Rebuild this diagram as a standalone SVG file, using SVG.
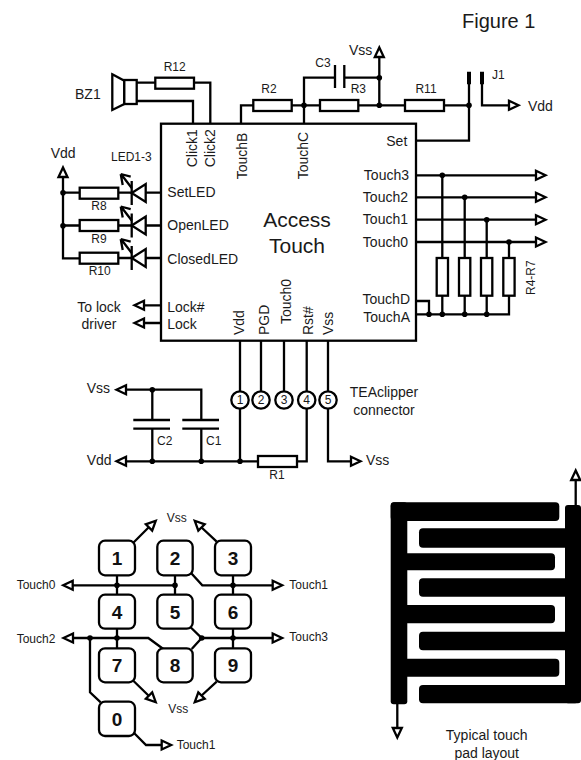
<svg xmlns="http://www.w3.org/2000/svg" width="581" height="760" viewBox="0 0 581 760">
<style>
text{font-family:"Liberation Sans",Arial,sans-serif;font-size:14px;fill:#1a1a1a}
.s{font-size:12px}
.e{text-anchor:end}
.m{text-anchor:middle}
.k{font-size:19px;font-weight:bold;text-anchor:middle;fill:#111}
.w{fill:none;stroke:#000;stroke-width:2.300;stroke-linejoin:miter}
.r{fill:#fff;stroke:#000;stroke-width:2.300}
.a{fill:#fff;stroke:#000;stroke-width:2.300;stroke-linejoin:miter}
.p{fill:#000}
</style>
<defs>
<circle id="j" r="2.800" fill="#000"/>
<path id="ar" d="M9.500 0L0-4.500V4.500Z" class="a"/>
<g id="led"><path d="M0 0L14-9V9Z" class="a"/><path d="M0-12V12" class="w"/><path d="M0-5L-10-18M-11-19L-1-16.300M-11-19L-9-8" class="w"/></g>
</defs>

<g id="labels">
<text x="462" y="28" style="font-size:20px">Figure 1</text>
<text x="75" y="99">BZ1</text>
<text x="174.700" y="70.700" class="s m">R12</text>
<text x="269" y="93" class="s m">R2</text>
<text x="315.300" y="66.700" class="s">C3</text>
<text x="358.300" y="92.700" class="s m">R3</text>
<text x="426" y="92.700" class="s m">R11</text>
<text x="349" y="55">Vss</text>
<text x="492" y="79" class="s">J1</text>
<text x="528" y="110.700">Vdd</text>
<text x="50.700" y="158.300">Vdd</text>
<text x="111" y="161.300" class="s">LED1-3</text>
<text x="99" y="210" class="s m">R8</text>
<text x="99" y="242.700" class="s m">R9</text>
<text x="99.700" y="275" class="s m">R10</text>
<text x="99" y="312" class="m">To lock</text>
<text x="99" y="329.300" class="m">driver</text>
<text x="86.700" y="393">Vss</text>
<text x="86.700" y="465">Vdd</text>
<text x="366" y="465">Vss</text>
<text x="157" y="445" class="s">C2</text>
<text x="206" y="445" class="s">C1</text>
<text x="277" y="479" class="s m">R1</text>
<text x="384" y="397" class="m">TEAclipper</text>
<text x="384" y="415" class="m">connector</text>
<text transform="translate(535 295) rotate(-90)" class="s">R4-R7</text>
<text x="486.700" y="740" class="m">Typical touch</text>
<text x="486.700" y="757.700" class="m">pad layout</text>
<text x="166.700" y="521.700" class="s">Vss</text>
<text x="168.300" y="712.700" class="s">Vss</text>
<text x="16.700" y="589.300" class="s">Touch0</text>
<text x="289.300" y="588.700" class="s">Touch1</text>
<text x="16.700" y="642.700" class="s">Touch2</text>
<text x="289.300" y="641" class="s">Touch3</text>
<text x="176.700" y="749" class="s">Touch1</text>
</g>

<g id="connectors">
<path class="w" d="M136.700 82.700H210.300V124M136.700 101H193V124"/>
<path class="w" d="M241 124V105.300H469M304 124V77.700H335M344.300 77.700H379.300M379.300 105.300V55"/>
<path class="w" d="M335 65V88M344.300 65V88"/>
<path class="w" d="M416 140.700H469V84M482 84V105.300H510"/>
<path class="w" d="M416 175.300H536M416 197.300H536M416 219.700H536M416 242H536"/>
<path class="w" d="M442.300 175.300V314.300M464.700 197.300V314.300M486.700 219.700V314.300M509 242V314.300H416M416 301H429V314.300"/>
<path class="w" d="M63 177V258.300H80M63 192.700H161M63 225.500H161M80 258H161"/>
<path class="w" d="M145 305.300H161M145 323H161"/>
<path class="w" d="M240 341V461.300M261 341V391M284 341V391M306.700 341V461.300H297M328 341V461.300H351"/>
<path class="w" d="M126 461.300H258M126 389.700H201.300V420M152.300 389.700V420M152.300 428.700V461.300M201.300 428.700V461.300"/>
<path class="w" d="M133.300 420H170M133.300 428.700H170M182.300 420H219M182.300 428.700H219"/>
<path class="w" d="M117 575V595M175 575V595M233 575V595M72 585.300H175M188.300 570L202.300 585.300H273"/>
<path class="w" d="M117 628.700V648M233 628.700V648M73 638H148.300L163.300 649M90 638V692.300L100.700 702.300M188.300 625L201.700 638H273M201.700 638L191.700 649"/>
<path class="w" d="M133.300 542.700L150 526M216.700 541.700L200 526M133.300 680.700L150 697M216.700 681.700L200 697M134.300 733.300L146 745H162"/>
<path class="w" d="M575.700 505V480M397.300 704V728"/>
<path class="w" style="stroke-width:4" d="M469 71.700V84.300M482 71.700V84.300"/>
<g>
<use href="#ar" transform="translate(509 105.300)"/>
<use href="#ar" transform="translate(536 175.300)"/><use href="#ar" transform="translate(536 197.300)"/><use href="#ar" transform="translate(536 219.700)"/><use href="#ar" transform="translate(536 242)"/>
<use href="#ar" transform="translate(379.300 57) rotate(-90)"/>
<use href="#ar" transform="translate(63 177) rotate(-90)"/>
<use href="#ar" transform="translate(144 305.300) rotate(180)"/><use href="#ar" transform="translate(144 323) rotate(180)"/>
<use href="#ar" transform="translate(126 461.300) rotate(180)"/><use href="#ar" transform="translate(126 389.700) rotate(180)"/>
<use href="#ar" transform="translate(351 461.300)"/>
<use href="#ar" transform="translate(72.700 585.300) rotate(180)"/><use href="#ar" transform="translate(73 638) rotate(180)"/>
<use href="#ar" transform="translate(272.700 585.300)"/><use href="#ar" transform="translate(272.700 638)"/>
<use href="#ar" transform="translate(149 527.500) rotate(-45)"/><use href="#ar" transform="translate(201.500 527.500) rotate(-135)"/>
<use href="#ar" transform="translate(149 695.500) rotate(45)"/><use href="#ar" transform="translate(201.500 695.500) rotate(135)"/>
<use href="#ar" transform="translate(161.700 745)"/>
<use href="#ar" transform="translate(575.700 480) rotate(-90)"/><use href="#ar" transform="translate(397.300 728) rotate(90)"/>
</g>
<g>
<use href="#j" x="304" y="105.300"/><use href="#j" x="379.300" y="105.300"/><use href="#j" x="379.300" y="77.700"/><use href="#j" x="469" y="105.300"/>
<use href="#j" x="442.300" y="175.300"/><use href="#j" x="464.700" y="197.300"/><use href="#j" x="486.700" y="219.700"/><use href="#j" x="509" y="242"/>
<use href="#j" x="429" y="314.300"/><use href="#j" x="442.300" y="314.300"/><use href="#j" x="464.700" y="314.300"/><use href="#j" x="486.700" y="314.300"/>
<use href="#j" x="63" y="192.700"/><use href="#j" x="63" y="225.700"/>
<use href="#j" x="152.300" y="389.700"/><use href="#j" x="152.300" y="461.300"/><use href="#j" x="201.300" y="461.300"/><use href="#j" x="240" y="461.300"/>
<use href="#j" x="117" y="585.300"/><use href="#j" x="175" y="585.300"/><use href="#j" x="233" y="585.300"/>
<use href="#j" x="90" y="638"/><use href="#j" x="117" y="638"/><use href="#j" x="201.700" y="638"/><use href="#j" x="233" y="638"/>
</g>
</g>

<g id="BZ1"><path class="a" d="M112.300 74.300L124.300 80.700V104L112.300 110Z"/><rect class="r" x="124.300" y="80" width="12.400" height="24"/></g>
<g id="R12"><rect class="r" x="155.300" y="77.700" width="38.700" height="11"/></g>
<g id="R2"><rect class="r" x="253.300" y="100" width="38.400" height="11"/></g>
<g id="R3"><rect class="r" x="320" y="100" width="38.300" height="11"/></g>
<g id="R11"><rect class="r" x="405" y="100" width="39" height="11"/></g>
<g id="R8"><rect class="r" x="79.700" y="187.700" width="38.600" height="11"/></g>
<g id="R9"><rect class="r" x="79.700" y="220" width="38.600" height="11"/></g>
<g id="R10"><rect class="r" x="79.700" y="252.700" width="38.600" height="11"/></g>
<g id="R1"><rect class="r" x="258" y="456" width="39" height="11"/></g>
<g id="R4"><rect class="r" x="436.700" y="258" width="11.300" height="37.700"/></g>
<g id="R5"><rect class="r" x="459" y="258" width="11.300" height="37.700"/></g>
<g id="R6"><rect class="r" x="481" y="258" width="11.300" height="37.700"/></g>
<g id="R7"><rect class="r" x="503.300" y="258" width="11.300" height="37.700"/></g>
<g id="LED1"><use href="#led" transform="translate(131.700 193)"/></g>
<g id="LED2"><use href="#led" transform="translate(131.700 225.500)"/></g>
<g id="LED3"><use href="#led" transform="translate(131.700 258)"/></g>

<g id="AccessTouch">
<rect x="161" y="123.700" width="255" height="217" fill="none" stroke="#000" stroke-width="2.300"/>
<text x="297" y="227" class="m" style="font-size:21px">Access</text>
<text x="297" y="252.700" class="m" style="font-size:21px">Touch</text>
<text x="167.300" y="196.700">SetLED</text>
<text x="167.300" y="230">OpenLED</text>
<text x="167.300" y="264">ClosedLED</text>
<text x="167.300" y="311.700">Lock#</text>
<text x="167.300" y="329.300">Lock</text>
<text transform="translate(196.700 167.300) rotate(-90)">Click1</text>
<text transform="translate(214.700 167.300) rotate(-90)">Click2</text>
<text transform="translate(246.700 179.300) rotate(-90)">TouchB</text>
<text transform="translate(308.300 179.300) rotate(-90)">TouchC</text>
<text transform="translate(243.700 335) rotate(-90)">Vdd</text>
<text transform="translate(269.300 335) rotate(-90)">PGD</text>
<text transform="translate(290.700 324) rotate(-90)">Touch0</text>
<text transform="translate(313.300 335) rotate(-90)">Rst#</text>
<text transform="translate(333.300 335) rotate(-90)">Vss</text>
<text x="407.300" y="146" class="e">Set</text>
<text x="409" y="179.700" class="e">Touch3</text>
<text x="408" y="202" class="e">Touch2</text>
<text x="408" y="224" class="e">Touch1</text>
<text x="408" y="246.700" class="e">Touch0</text>
<text x="410" y="304" class="e">TouchD</text>
<text x="410" y="321.700" class="e">TouchA</text>
</g>

<g id="TEAclipper">
<g id="pin1"><circle class="r" cx="240" cy="400" r="8.700"/><text x="240" y="404.300" class="s m">1</text></g>
<g id="pin2"><circle class="r" cx="261" cy="400" r="8.700"/><text x="261" y="404.300" class="s m">2</text></g>
<g id="pin3"><circle class="r" cx="284" cy="400" r="8.700"/><text x="284" y="404.300" class="s m">3</text></g>
<g id="pin4"><circle class="r" cx="306.700" cy="400" r="8.700"/><text x="306.700" y="404.300" class="s m">4</text></g>
<g id="pin5"><circle class="r" cx="328" cy="400" r="8.700"/><text x="328" y="404.300" class="s m">5</text></g>
</g>

<g id="keypad">
<g id="key1"><rect class="r" x="99" y="540.700" width="36" height="34.600" rx="6"/><text x="117" y="565" class="k">1</text></g>
<g id="key2"><rect class="r" x="157.300" y="540.700" width="35.400" height="34.600" rx="6"/><text x="175" y="565" class="k">2</text></g>
<g id="key3"><rect class="r" x="215" y="540.700" width="36" height="34.600" rx="6"/><text x="233" y="565" class="k">3</text></g>
<g id="key4"><rect class="r" x="99" y="594.700" width="36" height="34" rx="6"/><text x="117" y="618.700" class="k">4</text></g>
<g id="key5"><rect class="r" x="157.300" y="594.700" width="35.400" height="34" rx="6"/><text x="175" y="618.700" class="k">5</text></g>
<g id="key6"><rect class="r" x="215" y="594.700" width="36" height="34" rx="6"/><text x="233" y="618.700" class="k">6</text></g>
<g id="key7"><rect class="r" x="99" y="648.300" width="36" height="34" rx="6"/><text x="117" y="672.300" class="k">7</text></g>
<g id="key8"><rect class="r" x="157.300" y="648.300" width="35.400" height="34" rx="6"/><text x="175" y="672.300" class="k">8</text></g>
<g id="key9"><rect class="r" x="215" y="648.300" width="36" height="34" rx="6"/><text x="233" y="672.300" class="k">9</text></g>
<g id="key0"><rect class="r" x="99" y="701.700" width="36" height="34.300" rx="6"/><text x="117" y="725.500" class="k">0</text></g>
</g>

<g id="touchpad">
<rect class="p" x="390.700" y="502.300" width="16.600" height="202" rx="3"/>
<rect class="p" x="390.700" y="502.300" width="168.600" height="18.700" rx="4"/>
<rect class="p" x="392" y="553.300" width="163" height="17" rx="4"/>
<rect class="p" x="392" y="605" width="163" height="18.300" rx="4"/>
<rect class="p" x="392" y="658.700" width="167.300" height="18" rx="4"/>
<rect class="p" x="565" y="505" width="16" height="198.300" rx="3"/>
<rect class="p" x="419" y="528.300" width="160" height="19.400" rx="4"/>
<rect class="p" x="419" y="578.300" width="160" height="18.400" rx="4"/>
<rect class="p" x="419" y="631.700" width="160" height="18.600" rx="4"/>
<rect class="p" x="419" y="685" width="160" height="18.300" rx="4"/>
</g>
</svg>
